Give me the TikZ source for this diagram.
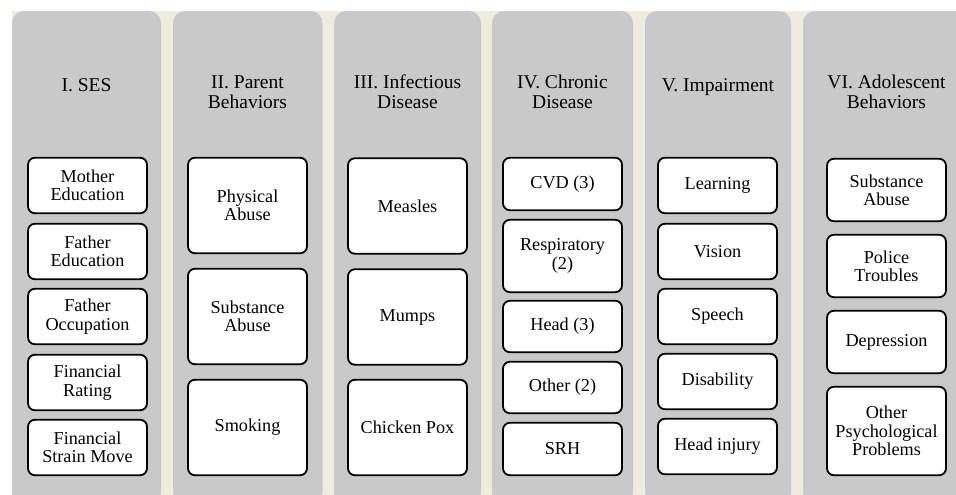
\documentclass[tikz,border=0pt]{standalone}
\usepackage{fontspec}
\setmainfont{Liberation Serif}
\newfontfamily\boxface{Liberation Serif}
\definecolor{panelbg}{HTML}{EEECE1}
\definecolor{colgray}{HTML}{C9C9C9}

\begin{document}
\begin{tikzpicture}[x=1pt,y=-1pt,
  column/.style={fill=colgray, rounded corners=12pt},
  item/.style={draw=black, fill=white, line width=1.8pt, rounded corners=7pt,
    align=center, inner sep=0pt, minimum width=119pt,
    font=\boxface\fontsize{18.2}{18.4}\selectfont},
  head/.style={align=center, inner sep=0pt, font=\boxface\fontsize{19.5}{20}\selectfont}]

\useasboundingbox (0,0) rectangle (956,495);
\clip (0,0) rectangle (956,495);

% backdrop
\fill[panelbg] (12,11) rectangle (956,495);

% category columns
\fill[column] (12,11)  rectangle (161,505);
\fill[column] (173,11) rectangle (322.5,505);
\fill[column] (334,11) rectangle (481,505);
\fill[column] (492,11) rectangle (633,505);
\fill[column] (645,11) rectangle (791,505);
\fill[column] (803,11) rectangle (970,505);

% column headings
\node[head, anchor=base] (h1) at (86.5,91.5) {I. SES};
\node[head] (h2) at (247.5,92) {II. Parent\\Behaviors};
\node[head] (h3) at (407.5,92) {III. Infectious\\Disease};
\node[head] (h4) at (562.5,92) {IV. Chronic\\Disease};
\node[head, anchor=base] (h5) at (718,91.5) {V. Impairment};
\node[head] (h6) at (886.5,92) {VI. Adolescent\\Behaviors};

% I. SES
\node[item, minimum height=55.5pt] (a1) at (87.5,185.5) {Mother\\Education};
\node[item, minimum height=55.5pt] (a2) at (87.5,251.5) {Father\\Education};
\node[item, minimum height=55.5pt] (a3) at (87.5,316.5) {Father\\Occupation};
\node[item, minimum height=55.5pt] (a4) at (87.5,382.5) {Financial\\Rating};
\node[item, minimum height=55.5pt] (a5) at (87.5,447.5) {Financial\\Strain Move};

% II. Parent behaviors
\node[item, minimum height=95.5pt] (b1) at (247.5,205.5) {Physical\\Abuse};
\node[item, minimum height=95.5pt] (b2) at (247.5,316.5) {Substance\\Abuse};
\node[item, minimum height=95.5pt] (b3) at (247.5,427.5) {Smoking};

% III. Infectious disease
\node[item, minimum height=95.5pt] (c1) at (407.5,206) {Measles};
\node[item, minimum height=95.5pt] (c2) at (407.5,317) {Mumps};
\node[item, minimum height=95.5pt] (c3) at (407.5,427.5) {Chicken Pox};

% IV. Chronic disease
\node[item, minimum height=52.5pt] (d1) at (562.5,184)   {CVD (3)};
\node[item, minimum height=72.5pt] (d2) at (562.5,256)   {Respiratory\\(2)};
\node[item, minimum height=51.5pt] (d3) at (562.5,326.5) {Head (3)};
\node[item, minimum height=51.5pt] (d4) at (562.5,387.5) {Other (2)};
\node[item, minimum height=52.5pt] (d5) at (562.5,449)   {SRH};

% V. Impairment
\node[item, minimum height=55.5pt] (e1) at (717.5,185.5) {Learning};
\node[item, minimum height=55.5pt] (e2) at (717.5,251.5) {Vision};
\node[item, minimum height=55.5pt] (e3) at (717.5,316.5) {Speech};
\node[item, minimum height=55.5pt] (e4) at (717.5,381.5) {Disability};
\node[item, minimum height=55.5pt] (e5) at (717.5,446.5) {Head injury};

% VI. Adolescent behaviors
\node[item, minimum height=62.5pt] (f1) at (886.5,190) {Substance\\Abuse};
\node[item, minimum height=62.5pt] (f2) at (886.5,266) {Police\\Troubles};
\node[item, minimum height=62.5pt] (f3) at (886.5,342) {Depression};
\node[item, minimum height=88.5pt] (f4) at (886.5,431) {Other\\Psychological\\Problems};

\end{tikzpicture}
\end{document}
